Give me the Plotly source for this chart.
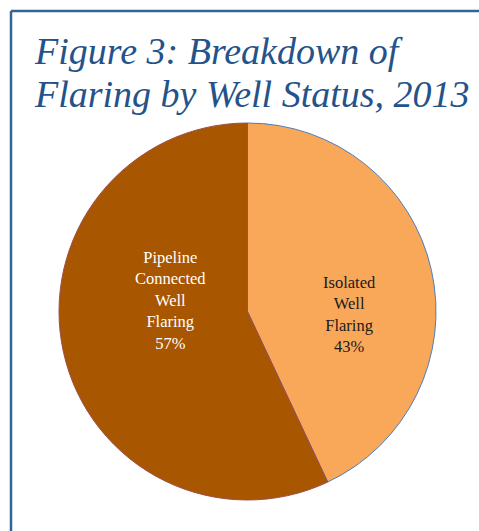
import plotly.graph_objects as go

categories = ["Isolated<br>Well<br>Flaring", "Pipeline<br>Connected<br>Well<br>Flaring"]
values = [43, 57]
slice_colors = ["#F9A85A", "#A85600"]
outline_colors = ["#4A7EBB", "#9E4F4F"]
text_colors = ["#1a1a1a", "#ffffff"]
title_lines = ["Figure 3: Breakdown of", "Flaring by Well Status, 2013"]

W, H = 479, 531


def px(x):
    return x / W


def py(y):
    return 1 - y / H


fig = go.Figure()
fig.add_trace(go.Pie(
    labels=categories,
    values=values,
    sort=False,
    direction="clockwise",
    rotation=0,
    marker=dict(colors=slice_colors, line=dict(color=outline_colors, width=1)),
    textinfo="none",
    hoverinfo="skip",
    showlegend=False,
    domain=dict(x=[px(58), px(437)], y=[py(500), py(123)]),
))

total = sum(values)
label_pos = [(349, 314.5), (170, 300.5)]
for cat, v, tc, (lx, ly) in zip(categories, values, text_colors, label_pos):
    fig.add_annotation(
        text=f"{cat}<br>{round(100 * v / total)}%", x=px(lx), y=py(ly),
        xref="paper", yref="paper", xanchor="center", yanchor="middle",
        showarrow=False, align="center",
        font=dict(family="Liberation Serif", size=16.5, color=tc),
    )

title_y = [51, 94]
for line, y in zip(title_lines, title_y):
    fig.add_annotation(
        text=line, x=px(32), y=py(y), xref="paper", yref="paper",
        xanchor="left", yanchor="middle", showarrow=False,
        font=dict(family="Liberation Serif", size=38, color="#24528A", style="italic"),
    )

border = "#2F6699"
fig.add_shape(type="line", xref="paper", yref="paper",
              x0=px(11), x1=1.05, y0=py(11), y1=py(11),
              line=dict(color=border, width=2.5))
fig.add_shape(type="line", xref="paper", yref="paper",
              x0=px(11), x1=px(11), y0=py(11), y1=-0.05,
              line=dict(color=border, width=2.5))

fig.update_layout(
    width=W, height=H,
    margin=dict(l=0, r=0, t=0, b=0),
    paper_bgcolor="white", plot_bgcolor="white",
)

fig.write_html(
    "out.html",
    config={"displayModeBar": False},
    post_script="document.body.style.margin='0';document.body.style.overflow='hidden';",
)
